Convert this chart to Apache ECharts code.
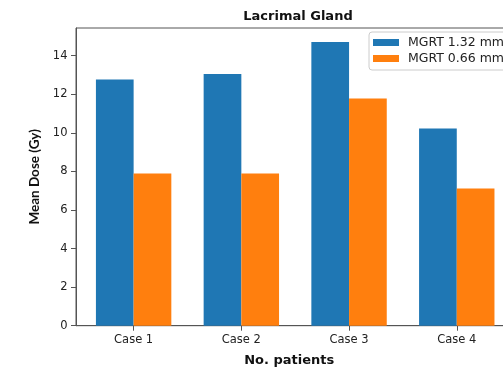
<!DOCTYPE html>
<html>
<head>
<meta charset="utf-8">
<script src="https://cdn.jsdelivr.net/npm/echarts@6/dist/echarts.min.js"></script>
<style>html,body{margin:0;padding:0;background:#fff;}#c{width:503px;height:370px;}</style>
</head>
<body>
<div id="c"></div>
<script>
const categories = ['Case 1', 'Case 2', 'Case 3', 'Case 4'];
const seriesNames = ['MGRT 1.32 mm', 'MGRT 0.66 mm'];
const mgrt132 = [12.76, 13.05, 14.71, 10.22];
const mgrt066 = [7.89, 7.89, 11.78, 7.11];
const yTicks = [0, 2, 4, 6, 8, 10, 12, 14];

const chart = echarts.init(document.getElementById('c'), null, {renderer: 'canvas'});
const toPts = arr => arr.map((v, i) => [i, v]);
const catIdx = categories.map((c, i) => i);
const axisCol = '#555';
chart.setOption({
  animation: false,
  backgroundColor: '#fff',
  title: {
    text: 'Lacrimal Gland', left: 293, top: 5, textAlign: 'center',
    textStyle: {fontFamily: 'DejaVu Sans', fontWeight: 'bold', fontSize: 13, color: '#111'}
  },
  grid: {left: 76, top: 28, width: 438.4, height: 297.7, outerBoundsMode: 'none', containLabel: false,
         show: true, borderColor: axisCol, borderWidth: 1, backgroundColor: 'transparent'},
  legend: {
    orient: 'vertical', left: 369, top: 32,
    data: seriesNames,
    icon: 'rect', itemWidth: 26, itemHeight: 7, itemGap: 3,
    padding: [4, 12, 5, 4],
    backgroundColor: 'rgba(255,255,255,0.85)', borderColor: '#ccc', borderWidth: 1, borderRadius: 3,
    textStyle: {fontFamily: 'DejaVu Sans', fontSize: 12.5, color: '#222', lineHeight: 13, padding: [0, 0, 0, 4]}
  },
  xAxis: {
    type: 'value', min: -0.535, max: 3.535,
    name: 'No. patients', nameLocation: 'middle', nameGap: 28,
    nameTextStyle: {fontFamily: 'DejaVu Sans', fontWeight: 'bold', fontSize: 13, color: '#111', padding: [0, 12, 0, 0]},
    axisLine: {show: true, onZero: false, lineStyle: {color: axisCol, width: 1}},
    axisTick: {show: true, customValues: catIdx, length: 5, lineStyle: {color: axisCol}},
    axisLabel: {customValues: catIdx, formatter: v => categories[Math.round(v)], fontFamily: 'DejaVu Sans', fontSize: 11.5, color: '#222', margin: 8},
    splitLine: {show: false}
  },
  yAxis: {
    type: 'value', min: 0, max: 15.435,
    name: 'Mean Dose (Gy)', nameLocation: 'middle', nameGap: 31, nameRotate: 90,
    nameTextStyle: {fontFamily: 'Lato', fontWeight: 'bold', fontSize: 13.5, color: '#111'},
    axisLine: {show: true, onZero: false, lineStyle: {color: axisCol, width: 1}},
    axisTick: {show: true, customValues: yTicks, length: 5, lineStyle: {color: axisCol}},
    axisLabel: {customValues: yTicks, fontFamily: 'DejaVu Sans', fontSize: 11.5, color: '#222', margin: 8.5},
    splitLine: {show: false}
  },
  series: [
    {name: seriesNames[0], type: 'bar', data: toPts(mgrt132), barWidth: 37.7, barGap: '0%', itemStyle: {color: '#1f77b4'}},
    {name: seriesNames[1], type: 'bar', data: toPts(mgrt066), barWidth: 37.7, barGap: '0%', itemStyle: {color: '#ff7f0e'}}
  ]
});
</script>
</body>
</html>
